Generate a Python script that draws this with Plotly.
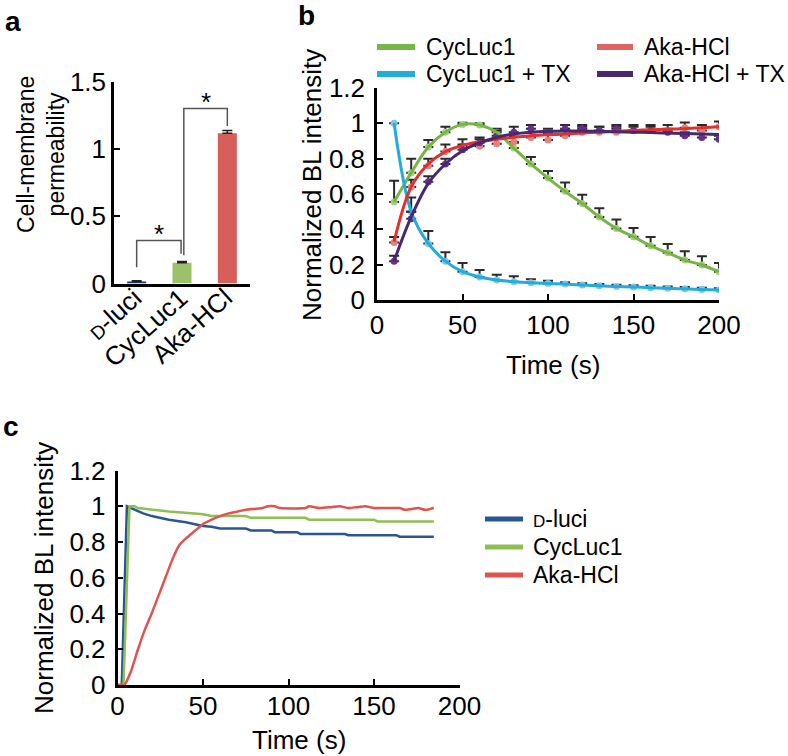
import plotly.graph_objects as go

W, H = 788, 756
FONT = "Liberation Sans, Arial, Helvetica, sans-serif"


def px(x):
    return x / W


def py(y):
    return 1 - y / H


# ---------------- Panel a data ----------------
a_positions = [0, 1, 2]
a_ticktext = ["<span style='font-size:19px'>D</span>-luci", "CycLuc1", "Aka-HCl"]
a_values = [0.015, 0.155, 1.115]
a_errors = [0.006, 0.008, 0.022]
a_colors = ["#1f3864", "#9bc26b", "#d65f5a"]
# significance brackets: (x_left, y_left_bottom, y_top, x_right, y_right_bottom)
a_br1 = [0.0, 0.12, 0.32, 0.98, 0.22]
a_br2 = [1.04, 0.21, 1.30, 2.0, 1.17]
a_star_y = [0.365, 1.345]

# ---------------- Panel b data ----------------
b_time = [10, 20, 30, 40, 50, 60, 70, 80, 90, 100,
          110, 120, 130, 140, 150, 160, 170, 180, 190, 200]
b_cyc = [0.555, 0.72, 0.866, 0.95, 0.994, 0.99, 0.95, 0.86, 0.77, 0.69,
         0.615, 0.546, 0.47, 0.405, 0.358, 0.307, 0.267, 0.226, 0.198, 0.16]
b_cyc_err = [0.12, 0.08, 0.04, 0.03, 0.01, 0.01, 0.02, 0.03, 0.04, 0.04,
             0.05, 0.05, 0.05, 0.05, 0.05, 0.05, 0.05, 0.05, 0.05, 0.05]
b_cyctx = [1.0, 0.5, 0.32, 0.22, 0.16, 0.13, 0.113, 0.104, 0.098, 0.094,
           0.09, 0.085, 0.08, 0.077, 0.073, 0.07, 0.066, 0.063, 0.06, 0.057]
b_cyctx_err = [0.0, 0.08, 0.07, 0.05, 0.05, 0.04, 0.03, 0.03, 0.02, 0.015,
               0.01, 0.01, 0.01, 0.01, 0.01, 0.01, 0.01, 0.01, 0.01, 0.01]
b_aka_dots = [0.326, 0.64, 0.76, 0.84, 0.87, 0.87, 0.885, 0.895, 0.92, 0.905,
              0.93, 0.95, 0.95, 0.95, 0.96, 0.96, 0.96, 0.975, 0.96, 0.98]
b_aka_fit = [0.33, 0.64, 0.77, 0.84, 0.875, 0.895, 0.91, 0.92, 0.93, 0.935,
             0.94, 0.945, 0.95, 0.955, 0.96, 0.963, 0.967, 0.97, 0.975, 0.98]
b_aka_err = [0.03, 0.04, 0.04, 0.04, 0.04, 0.04, 0.03, 0.03, 0.03, 0.04,
             0.03, 0.03, 0.03, 0.03, 0.03, 0.03, 0.03, 0.03, 0.03, 0.03]
b_akatx_dots = [0.22, 0.46, 0.67, 0.77, 0.85, 0.89, 0.93, 0.95, 0.97, 0.95,
                0.97, 0.97, 0.96, 0.97, 0.96, 0.96, 0.95, 0.93, 0.92, 0.91]
b_akatx_fit = [0.22, 0.47, 0.66, 0.77, 0.845, 0.89, 0.92, 0.94, 0.95, 0.955,
               0.957, 0.957, 0.955, 0.953, 0.95, 0.948, 0.945, 0.942, 0.94, 0.937]
b_akatx_err = [0.03, 0.04, 0.03, 0.03, 0.03, 0.03, 0.03, 0.03, 0.02, 0.02,
               0.02, 0.02, 0.02, 0.02, 0.02, 0.02, 0.02, 0.02, 0.02, 0.02]

# ---------------- Panel c data ----------------
c_dluci_t = [0, 2.5, 5.5, 8, 10, 15, 20, 25, 30, 40, 45, 50, 55, 60, 75, 78,
             90, 92, 105, 107, 133, 135, 163, 165, 185]
c_dluci_v = [0, 0, 1.0, 0.99, 0.98, 0.96, 0.945, 0.935, 0.925, 0.91, 0.9, 0.89,
             0.885, 0.875, 0.875, 0.865, 0.865, 0.855, 0.855, 0.845, 0.845,
             0.838, 0.838, 0.83, 0.83]
c_cyc_t = [0, 3.5, 7, 10, 12, 20, 30, 45, 50, 55, 75, 78, 110, 112, 150, 152, 185]
c_cyc_v = [0, 0, 1.0, 1.0, 0.99, 0.98, 0.97, 0.96, 0.955, 0.945, 0.945, 0.935,
           0.935, 0.925, 0.925, 0.915, 0.915]
c_aka_t = [0, 4, 8, 12, 16, 20, 24, 28, 32, 36, 40, 45, 50, 55, 60, 65, 70, 75,
           80, 85, 88, 92, 95, 110, 112, 118, 125, 130, 135, 140, 145, 150,
           165, 168, 172, 176, 180, 183, 185]
c_aka_v = [0, 0, 0.08, 0.2, 0.31, 0.4, 0.5, 0.6, 0.7, 0.78, 0.82, 0.86, 0.9,
           0.925, 0.945, 0.96, 0.97, 0.98, 0.985, 0.99, 1.0, 1.0, 0.99, 0.99,
           1.0, 0.99, 0.995, 1.0, 0.99, 0.995, 1.0, 0.99, 0.99, 0.98, 0.985,
           0.99, 0.98, 0.985, 0.99]

GREEN, CYAN, RED, PURPLE = "#78b446", "#22acdc", "#e3302c", "#46296f"
GREEN_DOT, CYAN_DOT, RED_DOT, PURPLE_DOT = "#a4d27a", "#7cc8e4", "#e7807c", "#6b2d8e"
C_BLUE, C_GREEN, C_RED = "#2b5595", "#8dbf52", "#e0534f"

fig = go.Figure()

# ---- panel a ----
fig.add_trace(go.Bar(
    x=a_positions, y=a_values, width=0.42, marker=dict(color=a_colors, line=dict(width=0)),
    error_y=dict(type="data", array=a_errors, arrayminus=[0, 0, 0], symmetric=False,
                 color="#222", thickness=1.5, width=5),
    xaxis="x", yaxis="y", showlegend=False))

# ---- panel b: dots + error bars ----
for yv, err, col in [(b_cyc, b_cyc_err, GREEN_DOT), (b_cyctx, b_cyctx_err, CYAN_DOT),
                     (b_aka_dots, b_aka_err, RED_DOT), (b_akatx_dots, b_akatx_err, PURPLE_DOT)]:
    fig.add_trace(go.Scatter(
        x=b_time, y=yv, mode="markers", marker=dict(color=col, size=7),
        error_y=dict(type="data", array=err, arrayminus=[0] * len(err), symmetric=False,
                     color="#2a2a2a", thickness=2, width=5),
        xaxis="x2", yaxis="y2", showlegend=False))
for yv, col in [(b_cyc, GREEN), (b_cyctx, CYAN), (b_aka_fit, RED), (b_akatx_fit, PURPLE)]:
    fig.add_trace(go.Scatter(
        x=b_time, y=yv, mode="lines", line=dict(color=col, width=3, shape="spline", smoothing=1.0),
        xaxis="x2", yaxis="y2", showlegend=False))

# ---- panel c ----
for t, v, col, shp in [(c_dluci_t, c_dluci_v, C_BLUE, "linear"),
                       (c_cyc_t, c_cyc_v, C_GREEN, "linear"),
                       (c_aka_t, c_aka_v, C_RED, "spline")]:
    fig.add_trace(go.Scatter(x=t, y=v, mode="lines",
                             line=dict(color=col, width=2.5, shape=shp, smoothing=0.5),
                             xaxis="x3", yaxis="y3", showlegend=False))

axis_common = dict(showline=True, linecolor="black", linewidth=2.5, ticks="inside",
                   ticklen=6, tickwidth=2, tickcolor="black", showgrid=False,
                   zeroline=False, tickfont=dict(size=26, color="black", family=FONT),
                   automargin=False)

fig.update_layout(
    width=W, height=H, margin=dict(l=0, r=0, t=0, b=0),
    paper_bgcolor="white", plot_bgcolor="white",
    font=dict(family=FONT, color="black"),
    xaxis=dict(**axis_common, domain=[px(114), px(250)], range=[-0.5, 2.5],
               tickvals=a_positions, showticklabels=False, anchor="y"),
    yaxis=dict(**axis_common, domain=[py(283.5), py(81.5)], range=[0, 1.5],
               tickvals=[0, 0.5, 1, 1.5], ticktext=["0", "0.5", "1", "1.5"],
               anchor="x", ticklabelstandoff=0),
    xaxis2=dict(**axis_common, domain=[px(377), px(719)], range=[0, 200],
                tickvals=[0, 50, 100, 150, 200], anchor="y2", ticklabelstandoff=0),
    yaxis2=dict(**axis_common, domain=[py(300), py(88)], range=[0, 1.2],
                tickvals=[0, 0.2, 0.4, 0.6, 0.8, 1, 1.2],
                ticktext=["0", "0.2", "0.4", "0.6", "0.8", "1", "1.2"],
                anchor="x2", ticklabelstandoff=4),
    xaxis3=dict(**axis_common, domain=[px(117.5), px(459.5)], range=[0, 200],
                tickvals=[0, 50, 100, 150, 200], anchor="y3", ticklabelstandoff=-4),
    yaxis3=dict(**axis_common, domain=[py(685), py(470.5)], range=[0, 1.2],
                tickvals=[0, 0.2, 0.4, 0.6, 0.8, 1, 1.2],
                ticktext=["0", "0.2", "0.4", "0.6", "0.8", "1", "1.2"],
                anchor="x3", ticklabelstandoff=4),
)
fig.update_xaxes(selector=dict(anchor="y"), ticks="")

shapes = []
for br in [a_br1, a_br2]:
    xl, yl, yt, xr, yr = br
    shapes.append(dict(type="path", xref="x", yref="y",
                       path=f"M {xl},{yl} L {xl},{yt} L {xr},{yt} L {xr},{yr}",
                       line=dict(color="#555", width=1.5)))

# legend samples panel b
for (x0, x1, y, col) in [(377, 415, 47, GREEN), (377, 415, 74, CYAN),
                         (597, 633, 47, "#e06460"), (597, 633, 74, PURPLE)]:
    shapes.append(dict(type="line", xref="paper", yref="paper",
                       x0=px(x0), x1=px(x1), y0=py(y), y1=py(y),
                       line=dict(color=col, width=6)))
# legend samples panel c
for (y, col) in [(519, C_BLUE), (547, C_GREEN), (575, C_RED)]:
    shapes.append(dict(type="line", xref="paper", yref="paper",
                       x0=px(485), x1=px(523), y0=py(y), y1=py(y),
                       line=dict(color=col, width=5)))
fig.update_layout(shapes=shapes)

ann = []


def text(x, y, s, size=26, xanchor="center", yanchor="middle", angle=0, bold=False, align="center"):
    ann.append(dict(x=px(x), y=py(y), xref="paper", yref="paper", text=f"<b>{s}</b>" if bold else s,
                    showarrow=False, xanchor=xanchor, yanchor=yanchor, textangle=angle,
                    font=dict(size=size, family=FONT, color="black"), align=align))


# panel labels
text(13, 22, "a", size=28, bold=True)
text(306, 15, "b", size=28, bold=True)
text(11, 426, "c", size=28, bold=True)

# rotated category labels of panel a (anchored at each bar's position)
for pos, lab in zip(a_positions, a_ticktext):
    ann.append(dict(x=pos + 0.3, y=py(280), xref="x", yref="paper", text=lab,
                    showarrow=False, xanchor="right", yanchor="top", textangle=-42,
                    font=dict(size=26, family=FONT, color="black")))

# stars in panel a
ann.append(dict(x=(a_br1[0] + a_br1[3]) / 2, y=a_star_y[0], xref="x", yref="y", text="*",
                showarrow=False, font=dict(size=26, family=FONT, color="black")))
ann.append(dict(x=(a_br2[0] + a_br2[3]) / 2, y=a_star_y[1], xref="x", yref="y", text="*",
                showarrow=False, font=dict(size=26, family=FONT, color="black")))

# axis titles
text(41, 155, "Cell-membrane<br>permeability", size=23, angle=-90)
text(312, 185, "Normalized BL intensity", size=26, angle=-90)
text(553, 365, "Time (s)", size=26)
text(44, 578, "Normalized BL intensity", size=26, angle=-90)
text(299, 740, "Time (s)", size=26)

# legend texts
text(424, 47, "CycLuc1", size=23, xanchor="left")
text(424, 74, "CycLuc1 + TX", size=23, xanchor="left")
text(642, 47, "Aka-HCl", size=23, xanchor="left")
text(642, 74, "Aka-HCl + TX", size=23, xanchor="left")
text(531, 519, "<span style='font-size:17px'>D</span>-luci", size=23, xanchor="left")
text(531, 547, "CycLuc1", size=23, xanchor="left")
text(531, 575, "Aka-HCl", size=23, xanchor="left")

fig.update_layout(annotations=ann)
fig.write_html("out.html", config={"displayModeBar": False},
               post_script="document.body.style.margin='0';document.body.style.overflow='hidden';")
